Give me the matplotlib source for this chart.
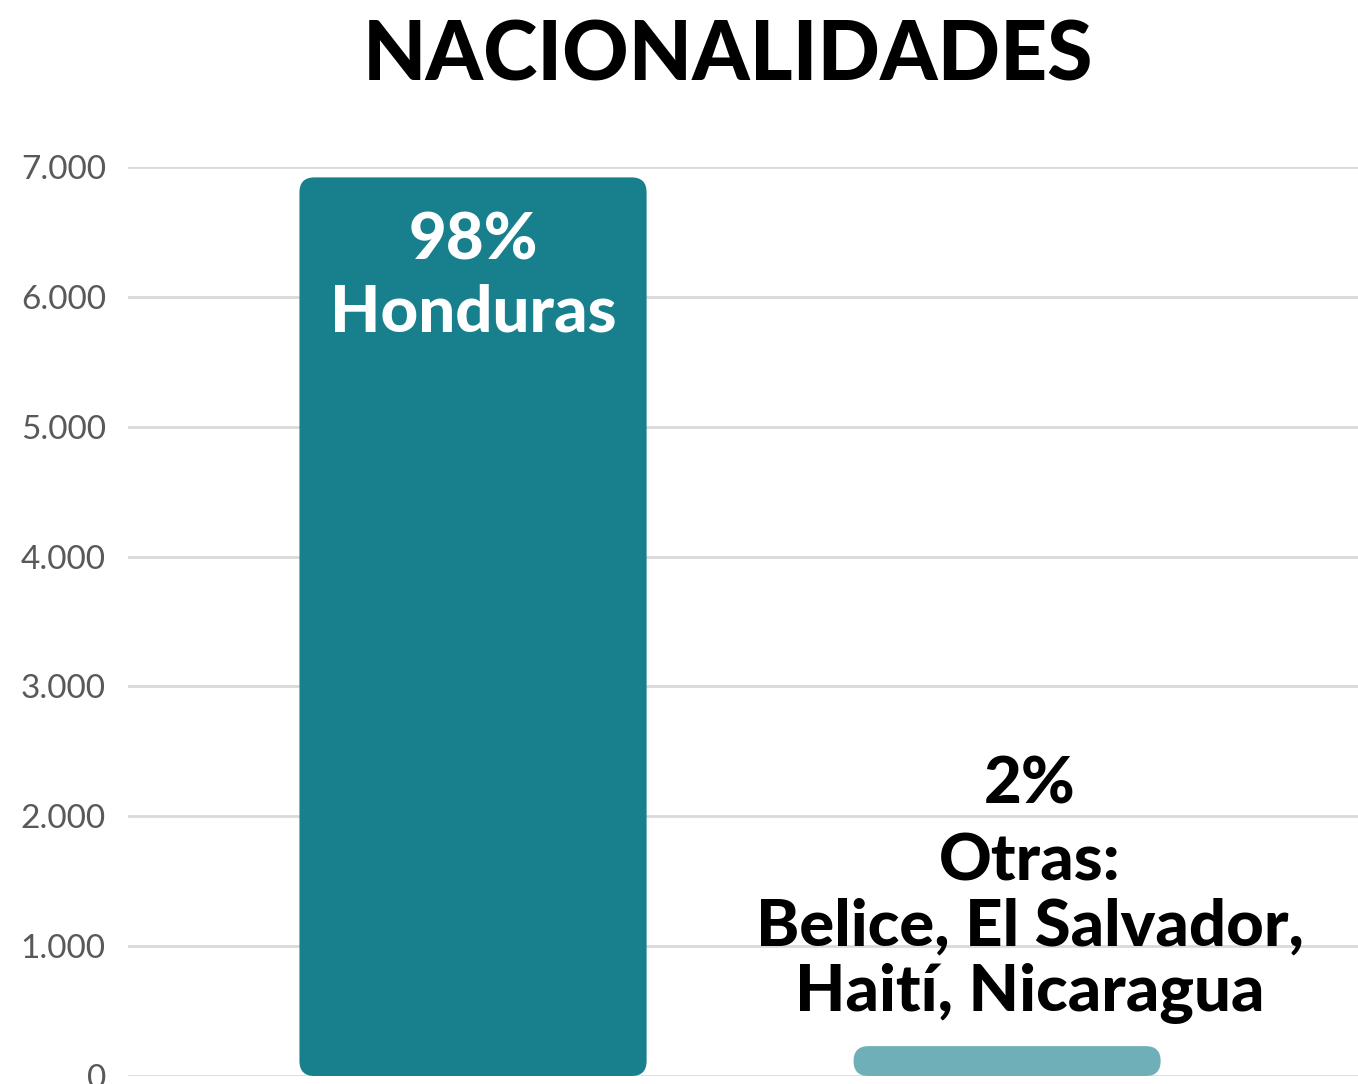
import matplotlib.pyplot as plt
from matplotlib.patches import FancyBboxPatch
from matplotlib.ticker import FuncFormatter

categories = ["Honduras", "Otras"]
values = [6920, 230]
percents = ["98%", "2%"]
otras_detail = ["Otras:", "Belice, El Salvador,", "Haití, Nicaragua"]
yticks = [0, 1000, 2000, 3000, 4000, 5000, 6000, 7000]

colors = ["#17808C", "#6FAFB8"]
widths = [0.65, 0.575]

plt.rcParams['font.family'] = ['Lato', 'DejaVu Sans']

W, H = 1358, 1084
fig = plt.figure(figsize=(W / 100, H / 100), dpi=100)
ax = fig.add_axes([128 / W, (H - 1076) / H, 1 - 128 / W, (1076 - 167) / H])
ax.set_xlim(-0.646, 1.657)
ax.set_ylim(0, 7000)

# pixel scales for rounding the corners
px_x = ax.get_position().width * W / (1.657 + 0.646)
px_y = ax.get_position().height * H / 7000
aspect = px_x / px_y
radius_px = 15

for i, (v, w, c) in enumerate(zip(values, widths, colors)):
    r = min(radius_px, v * px_y / 2) / px_x
    p = FancyBboxPatch((i - w / 2, 0), w, v,
                       boxstyle=f"round,pad=0,rounding_size={r}",
                       mutation_aspect=aspect, fc=c, ec="none", zorder=3,
                       clip_on=False)
    ax.add_patch(p)

ax.set_yticks(yticks)
ax.yaxis.set_major_formatter(FuncFormatter(lambda v, _: f"{int(v):,}".replace(",", ".")))
ax.tick_params(axis="y", length=0, labelsize=24, labelcolor="#595959", pad=16)
ax.set_xticks([])
ax.grid(axis="y", color="#D9D9D9", lw=2, zorder=0)
for s in ax.spines.values():
    s.set_visible(False)

ax.text(0, 6431, percents[0], ha="center", va="center", color="white",
        fontsize=47, fontweight="black")
ax.text(0, 5877, categories[0], ha="center", va="center", color="white",
        fontsize=47, fontweight="black")

ax.text(1.043, 2238, percents[1], ha="center", va="center", color="black",
        fontsize=47, fontweight="black")
for txt, y in zip(otras_detail, [1646, 1146, 638]):
    ax.text(1.043, y, txt, ha="center", va="center", color="black",
            fontsize=47, fontweight="black")

fig.text(728 / W, 1 - 57 / H, "NACIONALIDADES", ha="center", va="center",
         fontsize=59, fontweight="black")

fig.savefig("out.png", dpi=100)
